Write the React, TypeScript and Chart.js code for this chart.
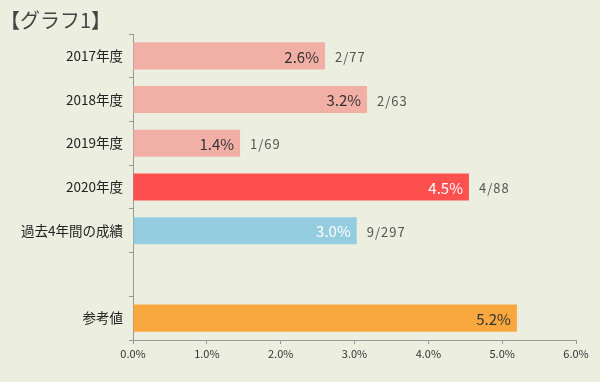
import React, { useEffect, useRef } from "react";
import { Chart, registerables } from "chart.js";

Chart.register(...registerables);

const titleText = "【グラフ1】";
const categories = ["2017年度", "2018年度", "2019年度", "2020年度", "過去4年間の成績", "", "参考値"];
const values: (number | null)[] = [2.6, 3.17, 1.45, 4.55, 3.03, null, 5.2];
const valueLabels = ["2.6%", "3.2%", "1.4%", "4.5%", "3.0%", "", "5.2%"];
const countLabels = ["2/77", "2/63", "1/69", "4/88", "9/297", "", ""];
const barColors = ["#F2AFA6", "#F2AFA6", "#F2AFA6", "#FF5050", "#94CCE0", "#ECEFE0", "#F8A83F"];
const valueLabelColors = ["#333333", "#333333", "#333333", "#FFFFFF", "#FFFFFF", "#333333", "#333333"];
const xMin = 0;
const xMax = 6;
const xStep = 1;

const FONT = "'Noto Sans CJK JP', 'Noto Sans', sans-serif";

const labelPlugin = {
  id: "barLabels",
  afterDatasetsDraw(chart: any) {
    const ctx = chart.ctx;
    const meta = chart.getDatasetMeta(0);
    ctx.save();
    ctx.textBaseline = "middle";
    meta.data.forEach((el: any, i: number) => {
      if (values[i] == null) return;
      ctx.font = `15px ${FONT}`;
      ctx.fillStyle = valueLabelColors[i];
      ctx.textAlign = "right";
      ctx.fillText(valueLabels[i], el.x - 6, el.y + 1);
      if (countLabels[i]) {
        ctx.font = `13px ${FONT}`;
        ctx.fillStyle = "#555555";
        ctx.textAlign = "left";
        (ctx as any).letterSpacing = "1px";
        ctx.fillText(countLabels[i], el.x + 10, el.y + 1);
        (ctx as any).letterSpacing = "0px";
      }
    });
    ctx.restore();
  },
};

export default function App() {
  const ref = useRef<HTMLCanvasElement | null>(null);
  useEffect(() => {
    if (!ref.current) return;
    const chart = new Chart(ref.current, {
      type: "bar",
      data: {
        labels: categories,
        datasets: [
          {
            data: values,
            backgroundColor: barColors,
            borderWidth: 0,
            barPercentage: 0.62,
            categoryPercentage: 1,
          },
        ],
      },
      options: {
        indexAxis: "y",
        animation: false,
        responsive: false,
        maintainAspectRatio: false,
        layout: { padding: { left: 0, right: 24, top: 0, bottom: 0 } },
        plugins: {
          legend: { display: false },
          tooltip: { enabled: false },
          title: {
            display: true,
            text: titleText,
            align: "start",
            color: "#444444",
            font: { family: FONT, size: 20, weight: "normal", lineHeight: 1.2 },
            padding: { top: 8, bottom: 2 },
          },
        },
        scales: {
          x: {
            min: xMin,
            max: xMax,
            ticks: {
              stepSize: xStep,
              color: "#333333",
              font: { family: FONT, size: 11 },
              padding: 3,
              callback: (v: any) => Number(v).toFixed(1) + "%",
            },
            grid: { drawOnChartArea: false, drawTicks: true, tickLength: 4, color: "#999999" },
            border: { display: true, color: "#999999", width: 1 },
            afterFit: (s: any) => {
              s.height = 42;
            },
          },
          y: {
            ticks: {
              color: "#222222",
              font: { family: FONT, size: 13.5 },
              padding: 6,
            },
            grid: { drawOnChartArea: false, drawTicks: true, tickLength: 4, color: "#999999", offset: true },
            border: { display: true, color: "#999999", width: 1 },
            afterFit: (s: any) => {
              s.width = 133;
            },
          },
        },
      },
      plugins: [labelPlugin],
    });
    return () => chart.destroy();
  }, []);
  return (
    <div style={{ position: "fixed", left: 0, top: 0, width: 600, height: 382, background: "#ECEFE0" }}>
      <canvas ref={ref} width={600} height={382} />
    </div>
  );
}
